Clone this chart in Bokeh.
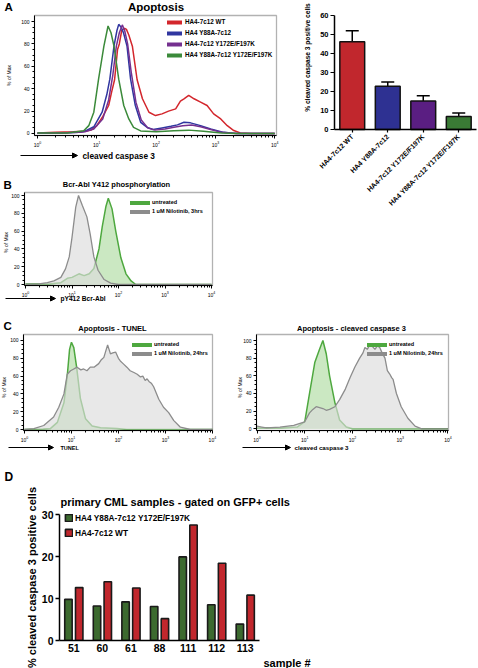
import math
from bokeh.plotting import figure
from bokeh.models import (Range1d, FactorRange, Label, Arrow, NormalHead, Legend, LegendItem, Whisker,
                          TeeHead, ColumnDataSource, FixedTicker, BoxAnnotation, LinearAxis, LogAxis, Title)
from bokeh.layouts import row, column
from bokeh.transform import dodge
from bokeh.embed import file_html
from bokeh.resources import INLINE

FONT = "Liberation Sans"
NAN = float("nan")

# ---------------- data ----------------
# Panel A (left): cleaved caspase 3 histograms; x = log10(intensity), y = % of max
a_wt_x = [0.0, 0.3, 0.6, 0.8, 0.9, 1.0, 1.1, 1.2, 1.25, 1.30, 1.35, 1.38, 1.42, 1.47, 1.50, 1.54, 1.60, 1.68, 1.77, 1.88,
          1.99, 2.10, 2.21, 2.33, 2.41, 2.47, 2.55, 2.64, 2.75, 2.86, 2.97, 3.09, 3.20, 3.31, 3.42, 3.60, 4.0]
a_wt_y = [0.5, 1, 1.5, 2, 3, 7, 15, 25, 37, 48, 75, 80, 92, 94, 93, 88, 78, 48, 31, 19,
          16, 17.5, 20, 22, 29, 31, 34, 31, 28, 25, 17.5, 13, 7, 2.6, 0.5, 0, 0]
a_y88a_x = [0.0, 0.4, 0.7, 0.8, 0.95, 1.09, 1.17, 1.22, 1.29, 1.34, 1.37, 1.41, 1.45, 1.51, 1.57, 1.65, 1.74, 1.85,
            1.95, 2.10, 2.25, 2.36, 2.47, 2.58, 2.75, 2.92, 3.14, 3.35, 4.0]
a_y88a_y = [0.3, 0.5, 1, 2, 6, 19, 35, 48.5, 78, 92, 97.5, 95, 90, 78, 48.5, 25, 10, 5.4,
            3.5, 5, 6.5, 7.7, 10, 9.5, 7, 4, 1, 0, 0]
a_y172_x = [0.0, 0.4, 0.7, 0.8, 0.95, 1.1, 1.2, 1.27, 1.33, 1.38, 1.43, 1.47, 1.52, 1.58, 1.66, 1.75, 1.86, 1.98,
            2.15, 2.30, 2.45, 2.60, 2.75, 2.92, 3.10, 3.35, 4.0]
a_y172_y = [0.3, 0.5, 1, 1.5, 4, 13, 30, 52, 78, 90, 97, 92, 80, 55, 28, 12, 5, 3,
            4, 5.5, 7, 7.5, 6, 3.5, 1, 0, 0]
a_dbl_x = [0.0, 0.5, 0.78, 0.865, 0.95, 1.03, 1.12, 1.19, 1.24, 1.29, 1.37, 1.455, 1.54, 1.62, 1.74, 2.0, 2.3,
           2.55, 2.8, 3.1, 3.4, 4.0]
a_dbl_y = [0.5, 0.5, 2.4, 7, 19, 48.5, 78, 96, 90, 78, 48.5, 25, 13, 5.4, 2.3, 1.5, 2.5, 3, 2, 0.5, 0, 0]
a_labels = ["HA4-7c12 WT", "HA4 Y88A-7c12", "HA4-7c12 Y172E/F197K", "HA4 Y88A-7c12 Y172E/F197K"]

# Panel A (right): % cleaved caspase 3 positive cells, mean and upper error
a_bar_mean = [46.2, 22.8, 15.0, 6.8]
a_bar_err = [52.0, 25.0, 17.8, 8.7]

# Panel B: pY412 Bcr-Abl
b_nil_x = [0.0, 0.25, 0.47, 0.61, 0.76, 0.86, 0.94, 1.0, 1.08, 1.14, 1.22, 1.32, 1.39, 1.47, 1.56, 1.69, 1.83, 2.0, 4.0]
b_nil_y = [0.5, 0.5, 2, 4, 8, 17.6, 31, 53, 87, 100, 89, 76, 57, 31, 16, 5.6, 1.5, 0, 0]
b_unt_x = [0.0, 0.5, 0.76, 0.9, 1.0, 1.15, 1.26, 1.37, 1.47, 1.58, 1.65, 1.73, 1.78, 1.86, 1.94, 2.05, 2.16, 2.27, 2.37, 4.0]
b_unt_y = [0.5, 0.5, 2, 7, 8, 12, 10, 12, 18, 40, 65, 88, 97, 85, 60, 30, 12, 4, 0, 0]

# Panel C (left): TUNEL
c1_nil_x = [0.0, 0.2, 0.41, 0.62, 0.73, 0.84, 0.91, 0.98, 1.05, 1.12, 1.2, 1.26, 1.33, 1.4, 1.48, 1.58, 1.63, 1.69,
            1.73, 1.77, 1.8, 1.83, 1.88, 1.94, 2.0, 2.04, 2.1, 2.18, 2.25, 2.33, 2.4, 2.47, 2.52, 2.57, 2.61, 2.65,
            2.7, 2.75, 2.86, 2.96, 3.07, 3.18, 3.32, 3.53, 4.0]
c1_nil_y = [0, 1, 4.5, 14, 25, 40, 62, 66, 68, 70, 67, 68, 66, 70, 70, 74, 78, 81,
            88, 95, 90, 85, 86, 87, 80, 77, 74, 70, 66, 64, 62, 59, 60, 55, 57, 54,
            52, 48, 34, 25, 19, 10, 2.6, 0, 0]
c1_unt_x = [0.0, 0.4, 0.55, 0.7, 0.84, 0.91, 0.96, 1.0, 1.05, 1.11, 1.19, 1.3, 1.44, 1.62, 1.97, 2.18, 4.0]
c1_unt_y = [0, 0.5, 1, 8, 30, 60, 90, 98, 92, 70, 35, 12, 4, 2, 1, 0, 0]

# Panel C (right): cleaved caspase 3
c2_nil_x = [0.0, 0.1, 0.2, 0.48, 0.77, 1.0, 1.1, 1.17, 1.24, 1.31, 1.38, 1.45, 1.52, 1.63, 1.73, 1.85, 1.95, 2.05,
            2.15, 2.22, 2.26, 2.31, 2.36, 2.42, 2.47, 2.52, 2.57, 2.62, 2.68, 2.73, 2.78, 2.82, 2.85, 2.92, 3.02,
            3.16, 3.31, 3.45, 4.0]
c2_nil_y = [3, 2, 1, 2, 4, 8, 18, 22, 25, 24, 23, 21, 22, 25, 33, 45, 58, 70,
            80, 86, 92, 90, 95, 93, 90, 94, 92, 86, 80, 66, 62, 58, 56, 40, 25,
            12, 3, 0, 0]
c2_unt_x = [0.0, 0.5, 0.84, 1.0, 1.1, 1.21, 1.31, 1.38, 1.45, 1.52, 1.63, 1.73, 1.87, 2.0, 4.0]
c2_unt_y = [1, 1, 2, 8, 40, 75, 90, 100, 85, 60, 30, 10, 2, 0, 0]

# Panel D: primary CML samples
d_samples = ["51", "60", "61", "88", "111", "112", "113"]
d_mut = [9.8, 8.2, 9.2, 8.1, 19.9, 8.5, 3.9]
d_wt = [12.6, 14.0, 12.5, 5.2, 27.5, 18.4, 10.8]

# axis ticks
flow_major = [1, 10, 100, 1000, 10000]
flow_minor = [k * 10 ** d for d in range(0, 4) for k in range(2, 10)]
pct_major = [0, 20, 40, 60, 80, 100]
pct_minor = list(range(0, 101, 5))
d_yticks = [0, 10, 20, 30]

# ---------------- styles ----------------
RED, BLUE, PURPLE, GREEN = "#d3262c", "#3036a0", "#75308f", "#3b8a3a"
BAR_COLORS = ["#c1272d", "#2e3192", "#5a1e82", "#3a7a35"]
D_GREEN, D_RED = "#3c6a2f", "#c1272d"
G_LINE, G_FILL = "#4ea83f", "#a9d89a"
GR_LINE, GR_FILL = "#8c8c8c", "#dcdcdc"


class Geo:
    """canvas (cx, cy, w, h) and plot box (L, R, T, B) in page px, box data extents."""
    def __init__(self, cx, cy, w, h, L, R, T, B, xlo, xhi, ylo, yhi, log=False):
        self.cx, self.cy, self.w, self.h = cx, cy, w, h
        self.L, self.R, self.T, self.B = L, R, T, B
        self.xlo, self.xhi, self.ylo, self.yhi, self.log = xlo, xhi, ylo, yhi, log

    def X(self, px):
        v = self.xlo + (px - self.L) / (self.R - self.L) * (self.xhi - self.xlo)
        return 10 ** v if self.log else v

    def Y(self, py):
        return self.ylo + (self.B - py) / (self.B - self.T) * (self.yhi - self.ylo)


def style_axis(ax):
    ax.major_label_text_font = FONT
    ax.major_label_text_color = "black"
    ax.axis_line_color = "black"
    ax.major_tick_line_color = "black"
    ax.minor_tick_line_color = "black"
    ax.major_tick_in = 0
    ax.minor_tick_in = 0


def base_fig(g, log=False):
    p = figure(width=g.w, height=g.h, title=None,
               x_range=Range1d(g.X(g.cx), g.X(g.cx + g.w)),
               y_range=Range1d(g.Y(g.cy + g.h), g.Y(g.cy)),
               x_axis_type="log" if log else "linear",
               x_axis_location=None, y_axis_location=None,
               min_border=0, min_border_left=0, min_border_right=0,
               min_border_top=0, min_border_bottom=0,
               output_backend="svg", toolbar_location=None)
    p.grid.visible = False
    p.outline_line_color = None
    xa = (LogAxis if log else LinearAxis)(fixed_location=g.Y(g.B), bounds=(g.X(g.L), g.X(g.R)))
    ya = LinearAxis(fixed_location=g.X(g.L), bounds=(g.Y(g.B), g.Y(g.T)))
    style_axis(xa)
    style_axis(ya)
    p.add_layout(xa, "below")
    p.add_layout(ya, "left")
    return p, xa, ya


def lbl(p, g, px, py, s, size, bold=True, align="left", baseline="middle", angle=0.0):
    p.add_layout(Label(x=g.X(px), y=g.Y(py), text=s, text_font=FONT,
                       text_font_size=f"{size}px", text_font_style="bold" if bold else "normal",
                       text_align=align, text_baseline=baseline, angle=angle, text_color="black"))


def arrow(p, g, px1, px2, py):
    p.add_layout(Arrow(x_start=g.X(px1), y_start=g.Y(py), x_end=g.X(px2), y_end=g.Y(py),
                       line_width=1, line_color="black",
                       end=NormalHead(size=5, fill_color="black", line_color="black", line_width=1)))


def make_legend(items, location, glyph_w, glyph_h, row_h, spacing, size, standoff):
    return Legend(items=items, location=location,
                  glyph_width=glyph_w, glyph_height=glyph_h, label_height=row_h,
                  spacing=spacing, padding=0, margin=0, label_standoff=standoff,
                  border_line_color=None, background_fill_alpha=0,
                  label_text_font=FONT, label_text_font_size=f"{size}px",
                  label_text_font_style="bold", label_text_color="black")


def legend(p, g, items, left_px, top_px, glyph_w, glyph_h, row_h, spacing, size, standoff):
    n = len(items)
    h = n * row_h + (n - 1) * spacing
    p.add_layout(make_legend(items, (left_px - g.cx, g.cy + g.h - (top_px + h)),
                             glyph_w, glyph_h, row_h, spacing, size, standoff))


def flow_fig(g):
    p, xa, ya = base_fig(g, log=True)
    p.add_layout(BoxAnnotation(left=g.X(g.L), right=g.X(g.R), bottom=g.Y(g.B), top=g.Y(g.T),
                               fill_alpha=0, line_color="black", line_width=1.3))
    xa.ticker = FixedTicker(ticks=flow_major, minor_ticks=flow_minor)
    ya.ticker = FixedTicker(ticks=pct_major, minor_ticks=pct_minor)
    for ax in (xa, ya):
        ax.major_label_text_font_size = "5px"
        ax.major_tick_out = 3
        ax.minor_tick_out = 2
        ax.major_label_standoff = 2
    return p


def lx(vals):
    return [10 ** v for v in vals]


def line_proxy(p, color):
    # legend-only swatch, draws nothing on the plot
    return p.line(x=[NAN], y=[NAN], line_color=color, line_width=4, line_cap="round")


def two_curve(p, unt_x, unt_y, nil_x, nil_y):
    p.varea(x=lx(unt_x), y1=0, y2=unt_y, fill_color=G_FILL, fill_alpha=0.6)
    p.line(lx(unt_x), unt_y, line_color=G_LINE, line_width=1.5)
    p.varea(x=lx(nil_x), y1=0, y2=nil_y, fill_color=GR_FILL, fill_alpha=0.65)
    p.line(lx(nil_x), nil_y, line_color=GR_LINE, line_width=1.3)


# ---------------- Panel A left ----------------
gA1 = Geo(0, 0, 300, 176, 34, 276, 15, 135, -0.05, 4.03, -1.8, 105.4, log=True)
pA1 = flow_fig(gA1)
for xs, ys, c in [(a_wt_x, a_wt_y, RED), (a_y88a_x, a_y88a_y, BLUE),
                  (a_y172_x, a_y172_y, PURPLE), (a_dbl_x, a_dbl_y, GREEN)]:
    pA1.line(lx(xs), ys, line_color=c, line_width=1.5)
itemsA = [LegendItem(label=a_labels[i], renderers=[line_proxy(pA1, c)])
          for i, c in enumerate([RED, BLUE, PURPLE, GREEN])]
legend(pA1, gA1, itemsA, 167, 17.5, 15, 8, 8, 3, 6.3, 3)
lbl(pA1, gA1, 4, 6.5, "A", 11.5)
lbl(pA1, gA1, 155.5, 6.5, "Apoptosis", 11.5, align="center")
lbl(pA1, gA1, 8, 75, "% of Max", 5, bold=False, align="center", angle=math.pi / 2)
arrow(pA1, gA1, 20, 77, 155)
lbl(pA1, gA1, 82, 155, "cleaved caspase 3", 8.3)

# ---------------- Panel A right ----------------
gA2 = Geo(300, 0, 178, 310, 334, 476, 15, 129, 0, 4, 0, 60)
pA2, xA2, yA2 = base_fig(gA2)
a_pos = [i + 0.5 for i in range(len(a_labels))]
srcA = ColumnDataSource(dict(pos=a_pos, mean=a_bar_mean, err=a_bar_err, color=BAR_COLORS))
pA2.add_layout(Whisker(source=srcA, base="pos", upper="err", lower="mean", dimension="height",
                       lower_head=None, upper_head=TeeHead(size=13, line_width=1.5, line_color="black"),
                       line_width=1.5, line_color="black"))
pA2.vbar(x="pos", top="mean", width=0.7, bottom=0, fill_color="color", line_color="#111111",
         line_width=1.5, source=srcA)
yA2.ticker = FixedTicker(ticks=[0, 10, 20, 30, 40, 50, 60], minor_ticks=[])
xA2.ticker = FixedTicker(ticks=a_pos, minor_ticks=[])
xA2.major_label_overrides = {pos: lab for pos, lab in zip(a_pos, a_labels)}
for ax in (xA2, yA2):
    ax.major_label_text_font_style = "bold"
    ax.axis_line_width = 1.5
    ax.major_tick_line_width = 1.2
    ax.minor_tick_line_color = None
yA2.major_label_text_font_size = "7.5px"
yA2.major_tick_out = 4
yA2.major_label_standoff = 2
xA2.major_label_text_font_size = "7px"
xA2.major_tick_out = 3
xA2.major_label_standoff = 3
xA2.major_label_orientation = math.pi / 4
lbl(pA2, gA2, 307, 57, "% cleaved caspase 3 positive cells", 6.6, align="center", angle=math.pi / 2)

# ---------------- Panel B ----------------
gB = Geo(0, 176, 300, 134, 24, 212, 192, 285, -0.0215, 4.02, -1.12, 103.4, log=True)
pB = flow_fig(gB)
two_curve(pB, b_unt_x, b_unt_y, b_nil_x, b_nil_y)
itemsB = [LegendItem(label="untreated", renderers=[line_proxy(pB, G_LINE)]),
          LegendItem(label="1 uM Nilotinib, 3hrs", renderers=[line_proxy(pB, GR_LINE)])]
legend(pB, gB, itemsB, 130, 198.8, 20, 7, 7, 2, 5.5, 2)
lbl(pB, gB, 3, 184, "B", 11.5)
lbl(pB, gB, 116, 184, "Bcr-Abl Y412 phosphorylation", 7.5, align="center")
lbl(pB, gB, 5, 242, "% of Max", 5, bold=False, align="center", angle=math.pi / 2)
arrow(pB, gB, 5, 55, 298)
lbl(pB, gB, 60, 298, "pY412 Bcr-Abl", 6.6)

# ---------------- Panel C left (canvas also carries the "D" letter) ----------------
gC1 = Geo(0, 310, 236, 174, 23, 212, 334, 430, -0.021, 4.003, -1.12, 106.7, log=True)
pC1 = flow_fig(gC1)
two_curve(pC1, c1_unt_x, c1_unt_y, c1_nil_x, c1_nil_y)
itemsC1 = [LegendItem(label="untreated", renderers=[line_proxy(pC1, G_LINE)]),
           LegendItem(label="1 uM Nilotinib, 24hrs", renderers=[line_proxy(pC1, GR_LINE)])]
legend(pC1, gC1, itemsC1, 132, 340.5, 20, 7, 7, 2, 5.5, 2)
lbl(pC1, gC1, 3, 325.5, "C", 11.5)
lbl(pC1, gC1, 112, 328, "Apoptosis - TUNEL", 7.5, align="center")
lbl(pC1, gC1, 3.5, 387, "% of Max", 5, bold=False, align="center", angle=math.pi / 2)
arrow(pC1, gC1, 8, 53, 447)
lbl(pC1, gC1, 60, 447, "TUNEL", 5.5)
lbl(pC1, gC1, 4, 476, "D", 12)

# ---------------- Panel C right ----------------
gC2 = Geo(236, 310, 242, 174, 256, 448, 334, 430, -0.0105, 4.0105, -1.9, 106.8, log=True)
pC2 = flow_fig(gC2)
two_curve(pC2, c2_unt_x, c2_unt_y, c2_nil_x, c2_nil_y)
itemsC2 = [LegendItem(label="untreated", renderers=[line_proxy(pC2, G_LINE)]),
           LegendItem(label="1 uM Nilotinib, 24hrs", renderers=[line_proxy(pC2, GR_LINE)])]
legend(pC2, gC2, itemsC2, 367, 340.5, 20, 7, 7, 2, 5.5, 2)
lbl(pC2, gC2, 351, 328, "Apoptosis - cleaved caspase 3", 7.5, align="center")
lbl(pC2, gC2, 239.5, 387, "% of Max", 5, bold=False, align="center", angle=math.pi / 2)
arrow(pC2, gC2, 242, 290, 447)
lbl(pC2, gC2, 294, 447, "cleaved caspase 3", 6.2)

# ---------------- Panel D (canvas y 484..668, plot box x 59..259, y 514..640) ----------------
pD = figure(width=478, height=184, title=None,
            x_range=FactorRange(*d_samples), y_range=Range1d(0, 30),
            min_border_left=59, min_border_right=219, min_border_top=30, min_border_bottom=28,
            output_backend="svg", toolbar_location=None)
pD.grid.visible = False
pD.outline_line_color = None
srcD = ColumnDataSource(dict(s=d_samples, mut=d_mut, wt=d_wt))
rm = pD.vbar(x=dodge("s", -0.187, range=pD.x_range), top="mut", width=0.26, fill_color=D_GREEN,
             line_color="#1a1a1a", line_width=1.6, source=srcD)
rw = pD.vbar(x=dodge("s", 0.19, range=pD.x_range), top="wt", width=0.26, fill_color=D_RED,
             line_color="#1a1a1a", line_width=1.6, source=srcD)
pD.yaxis.ticker = FixedTicker(ticks=d_yticks, minor_ticks=[])
for ax in (pD.xaxis[0], pD.yaxis[0]):
    style_axis(ax)
    ax.major_label_text_font_style = "bold"
    ax.major_label_text_font_size = "10.5px"
    ax.axis_line_width = 1.5
    ax.major_tick_line_width = 1.5
    ax.minor_tick_line_color = None
pD.xaxis.major_tick_out = 0
pD.xaxis.major_label_standoff = 3
pD.yaxis.major_tick_out = 4
pD.yaxis.major_label_standoff = 2
pD.yaxis.axis_label = "% cleaved caspase 3 positive cells"
pD.yaxis.axis_label_text_font = FONT
pD.yaxis.axis_label_text_font_size = "11px"
pD.yaxis.axis_label_text_font_style = "bold"
pD.yaxis.axis_label_text_color = "black"
pD.yaxis.axis_label_standoff = 1
pD.add_layout(Title(text="primary CML samples - gated on GFP+ cells", align="left", offset=1,
                    standoff=14, text_font=FONT, text_font_size="11px", text_font_style="bold",
                    text_color="black"), "above")
pD.add_layout(Title(text="sample #", align="left", offset=204, standoff=0,
                    text_font=FONT, text_font_size="11px", text_font_style="bold",
                    text_color="black"), "below")
itemsD = [LegendItem(label="HA4 Y88A-7c12 Y172E/F197K", renderers=[rm]),
          LegendItem(label="HA4-7c12 WT", renderers=[rw])]
# legend inside the plot box: (x from box left, y from box bottom)
pD.add_layout(make_legend(itemsD, (5, 640 - (514.5 + 23)), 9, 9, 9, 5, 8.3, 2))

# ---------------- layout ----------------
top = row(column(pA1, pB), pA2)
mid = row(pC1, pC2)
lay = column(top, mid, pD)

open("out.html", "w").write(file_html(lay, INLINE))
